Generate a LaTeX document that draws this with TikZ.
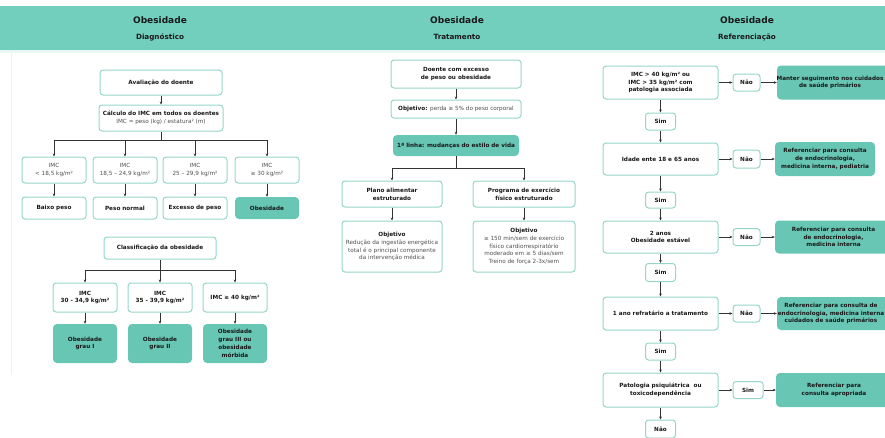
\documentclass[tikz,border=0pt]{standalone}
\usepackage{fontspec}
\setmainfont{DejaVu Sans}
\usetikzlibrary{arrows.meta}
\definecolor{hdr}{RGB}{114,207,190}
\definecolor{tealfill}{RGB}{104,198,180}
\definecolor{bord}{RGB}{150,214,200}
\definecolor{txt}{RGB}{25,25,25}
\definecolor{txtg}{RGB}{80,80,80}
\newcommand\mysz{\fontsize{5.7}{7.8}\selectfont}
\newcommand\myr{\mdseries\color{txtg}}
\begin{document}
\begin{tikzpicture}[x=1pt,y=-1pt,
  wbox/.style={draw=bord, line width=1pt, rounded corners=3pt, fill=white, inner sep=0pt, align=center, text=txt, font=\mysz\bfseries},
  tealbox/.style={fill=tealfill, rounded corners=4pt, inner sep=0pt, align=center, text=txt, font=\mysz\bfseries},
  reg/.style={font=\mysz\mdseries, text=txtg},
  arr/.style={draw=black!80, line width=0.8pt, -{Stealth[length=3pt,width=2.6pt]}},
  ln/.style={draw=black!80, line width=0.8pt},
  htitle/.style={font=\fontsize{9}{10}\selectfont\bfseries, text=txt, inner sep=0pt},
  hsub/.style={font=\fontsize{7.2}{8}\selectfont\bfseries, text=txt, inner sep=0pt}]
\useasboundingbox (0,0) rectangle (885,437);
\begin{scope}
\clip (0,0) rectangle (885,437);
% header band
\fill[hdr] (0,6) rectangle (885,50);
\fill[hdr!15] (0,50) rectangle (885,53);
\node[htitle] (h1) at (160,20) {Obesidade};
\node[hsub] (h1s) at (160,37) {Diagnóstico};
\node[htitle] (h2) at (457,20) {Obesidade};
\node[hsub] (h2s) at (457,37) {Tratamento};
\node[htitle] (h3) at (747,20) {Obesidade};
\node[hsub] (h3s) at (747,37) {Referenciação};
% faint panel border
\draw[gray!12, line width=0.6pt] (11,53) -- (11,375);

% ---------- Diagnostico ----------
\node[wbox,minimum width=122pt,minimum height=25pt] (L1) at (161,82.5) {Avaliação do doente};
\node[wbox,minimum width=124pt,minimum height=26pt] (L2) at (161,118) {Cálculo do IMC em todos os doentes\\{\myr IMC = peso (kg) / estatura² (m)}};
\draw[arr] (L1) -- (L2);
\foreach \n/\x/\t in {a/54/{IMC\\< 18,5 kg/m²}, b/125/{IMC\\18,5 – 24,9 kg/m²}, c/195/{IMC\\25 – 29,9 kg/m²}, d/267/{IMC\\≥ 30 kg/m²}}{
  \node[wbox,reg,minimum width=64pt,minimum height=26pt] (L3\n) at (\x,170) {\t};
}
\node[wbox,minimum width=64pt,minimum height=22pt] (L4a) at (54,208) {Baixo peso};
\node[wbox,minimum width=64pt,minimum height=22pt] (L4b) at (125,208) {Peso normal};
\node[wbox,minimum width=64pt,minimum height=22pt] (L4c) at (195,208) {Excesso de peso};
\node[tealbox,minimum width=64pt,minimum height=22pt] (L4d) at (267,208) {Obesidade};
\coordinate (jL) at (161,140);
\draw[ln] (L2.south) -- (jL);
\foreach \n in {a,b,c,d}{
  \draw[arr] (jL) -| (L3\n.north);
  \draw[arr] (L3\n) -- (L4\n);
}
\node[wbox,minimum width=112pt,minimum height=22pt] (L5) at (160,248) {Classificação da obesidade};
\node[wbox,minimum width=64pt,minimum height=29pt] (L6a) at (85,297.5) {IMC\\30 - 34,9 kg/m²};
\node[wbox,minimum width=64pt,minimum height=29pt] (L6b) at (160,297.5) {IMC\\35 - 39,9 kg/m²};
\node[wbox,minimum width=64pt,minimum height=29pt] (L6c) at (235,297.5) {IMC ≥ 40 kg/m²};
\node[tealbox,minimum width=64pt,minimum height=39pt] (L7a) at (85,343.5) {Obesidade\\grau I};
\node[tealbox,minimum width=64pt,minimum height=39pt] (L7b) at (160,343.5) {Obesidade\\grau II};
\node[tealbox,minimum width=64pt,minimum height=39pt] (L7c) at (235,343.5) {Obesidade\\grau III ou\\obesidade\\mórbida};
\coordinate (jC) at (160,270);
\draw[ln] (L5.south) -- (jC);
\foreach \n in {a,b,c}{
  \draw[arr] (jC) -| (L6\n.north);
  \draw[arr] (L6\n) -- (L7\n);
}

% ---------- Tratamento ----------
\node[wbox,minimum width=130pt,minimum height=28pt] (M1) at (456,74) {Doente com excesso\\de peso ou obesidade};
\node[wbox,minimum width=130pt,minimum height=18pt] (M2) at (456,109) {Objetivo: {\myr perda ≥ 5\% do peso corporal}};
\node[tealbox,minimum width=126pt,minimum height=21pt] (M3) at (456,145.5) {1ª linha: mudanças do estilo de vida};
\draw[arr] (M1) -- (M2);
\draw[arr] (M2) -- (M3);
\node[wbox,minimum width=100pt,minimum height=26pt] (M4a) at (392,194) {Plano alimentar\\estruturado};
\node[wbox,minimum width=102pt,minimum height=26pt] (M4b) at (524,194) {Programa de exercício\\físico estruturado};
\node[wbox,minimum width=100pt,minimum height=51pt] (M5a) at (392,246.5) {Objetivo\\{\myr Redução da ingestão energética}\\{\myr total é o principal componente}\\{\myr da intervenção médica}};
\node[wbox,minimum width=102pt,minimum height=51pt] (M5b) at (524,246.5) {Objetivo\\{\myr ≥ 150 min/sem de exercício}\\{\myr físico cardiorrespiratório}\\{\myr moderado em ≥ 5 dias/sem}\\{\myr Treino de força 2-3x/sem}};
\coordinate (jM) at (456,168);
\draw[ln] (M3.south) -- (jM);
\draw[arr] (jM) -| (M4a.north);
\draw[arr] (jM) -| (M4b.north);
\draw[arr] (M4a) -- (M5a);
\draw[arr] (M4b) -- (M5b);

% ---------- Referenciacao ----------
\node[wbox,minimum width=115pt,minimum height=33pt] (R1) at (660.5,82.5) {IMC > 40 kg/m² ou\\IMC > 35 kg/m² com\\patologia associada};
\node[wbox,minimum width=27pt,minimum height=17pt] (N1) at (746.5,82.5) {Não};
\node[tealbox,minimum width=117pt,minimum height=34pt] (F1) at (835.5,82.5) {};
\node[tealbox,fill=none] (F1t) at (830,82.5) {Manter seguimento nos cuidados\\de saúde primários};
\node[wbox,minimum width=30pt,minimum height=17pt] (S1) at (660.5,121.5) {Sim};
\node[wbox,minimum width=115pt,minimum height=32pt] (R2) at (660.5,159) {Idade ente 18 e 65 anos};
\node[wbox,minimum width=27pt,minimum height=18pt] (N2) at (746.5,159) {Não};
\node[tealbox,minimum width=100pt,minimum height=34pt] (F2) at (825,159) {Referenciar para consulta\\de endocrinologia,\\medicina interna, pediatria};
\node[wbox,minimum width=30pt,minimum height=16pt] (S2) at (660.5,200) {Sim};
\node[wbox,minimum width=115pt,minimum height=32pt] (R3) at (660.5,237) {2 anos\\Obesidade estável};
\node[wbox,minimum width=27pt,minimum height=17pt] (N3) at (746.5,237) {Não};
\node[tealbox,minimum width=117pt,minimum height=33pt] (F3) at (833.5,237) {Referenciar para consulta\\de endocrinologia,\\medicina interna};
\node[wbox,minimum width=30pt,minimum height=18pt] (S3) at (660.5,272.5) {Sim};
\node[wbox,minimum width=115pt,minimum height=33pt] (R4) at (660.5,313.5) {1 ano refratário a tratamento};
\node[wbox,minimum width=27pt,minimum height=17pt] (N4) at (746.5,313.5) {Não};
\node[tealbox,minimum width=117pt,minimum height=33pt] (F4) at (835.5,313.5) {};
\node[tealbox,fill=none] (F4t) at (831,313.5) {Referenciar para consulta de\\endocrinologia, medicina interna\\cuidados de saúde primários};
\node[wbox,minimum width=30pt,minimum height=17pt] (S4) at (660.5,351.5) {Sim};
\node[wbox,minimum width=115pt,minimum height=34pt] (R5) at (660.5,390) {Patologia psiquiátrica\ \ ou\\toxicodependência};
\node[wbox,minimum width=30pt,minimum height=17pt] (Y5) at (748,390) {Sim};
\node[tealbox,minimum width=116pt,minimum height=34pt] (F5) at (834,390) {Referenciar para\\consulta apropriada};
\node[wbox,minimum width=30pt,minimum height=18pt] (N5) at (660.5,429) {Não};
\draw[arr] (R1) -- (N1);
\draw[arr] (N1) -- (F1);
\draw[arr] (R1) -- (S1);
\draw[arr] (S1) -- (R2);
\draw[arr] (R2) -- (N2);
\draw[arr] (N2) -- (F2);
\draw[arr] (R2) -- (S2);
\draw[arr] (S2) -- (R3);
\draw[arr] (R3) -- (N3);
\draw[arr] (N3) -- (F3);
\draw[arr] (R3) -- (S3);
\draw[arr] (S3) -- (R4);
\draw[arr] (R4) -- (N4);
\draw[arr] (N4) -- (F4);
\draw[arr] (R4) -- (S4);
\draw[arr] (S4) -- (R5);
\draw[arr] (R5) -- (Y5);
\draw[arr] (Y5) -- (F5);
\draw[arr] (R5) -- (N5);
\end{scope}
\end{tikzpicture}
\end{document}
